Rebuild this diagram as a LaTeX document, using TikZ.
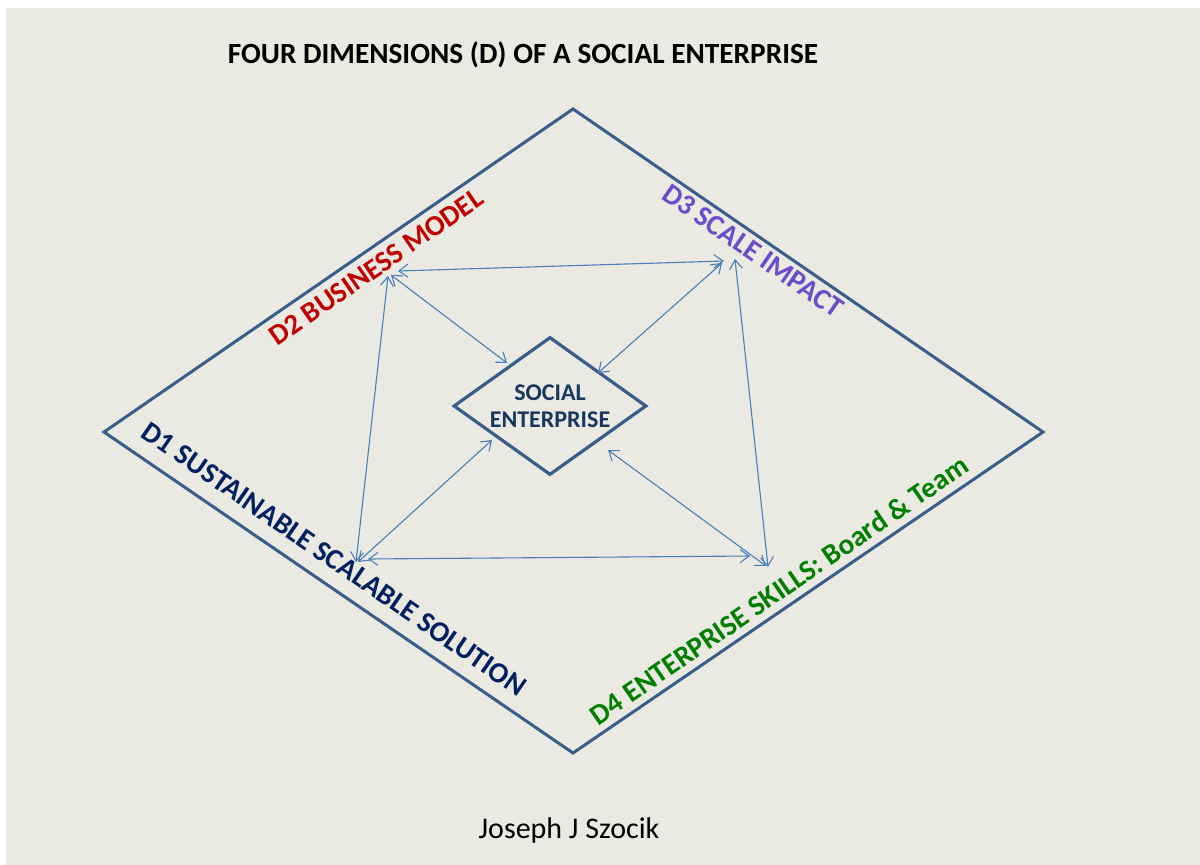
\documentclass[tikz,border=0pt]{standalone}
\usepackage{fontspec}
\setmainfont{Carlito}
\usetikzlibrary{arrows.meta,shapes.geometric}
\definecolor{bgc}{HTML}{EBEAE2}
\definecolor{framec}{HTML}{385D8A}
\definecolor{arrowc}{HTML}{4A7EBB}
\definecolor{redc}{HTML}{C00000}
\definecolor{purplec}{HTML}{6B4CC9}
\definecolor{navyc}{HTML}{002060}
\definecolor{greenc}{HTML}{007F00}
\definecolor{setext}{HTML}{17375E}
\begin{document}
\begin{tikzpicture}[x=1pt,y=-1pt,
  barb/.tip={Straight Barb[length=9pt,width=13pt]},
  conn/.style={draw=arrowc, line width=1.1pt, barb-barb},
  lbl/.style={font=\fontsize{29}{34}\selectfont\bfseries, inner sep=0pt},
  sed/.style={diamond, aspect=1.4, inner sep=0pt, minimum width=193pt, minimum height=138pt,
    draw=framec, line width=3.2pt,
    text=setext, align=center, font=\fontsize{24}{27}\selectfont\bfseries},
  bigframe/.style={draw=framec, line width=3pt, line join=miter}]
\useasboundingbox (0,0) rectangle (1200,865);
\fill[white] (0,0) rectangle (1200,865);
\fill[bgc] (6,8) rectangle (1200,865);

% outer diamond
\coordinate (T) at (573,109);
\coordinate (L) at (104,432);
\coordinate (B) at (573,753);
\coordinate (R) at (1043,432);
\draw[bigframe] (T) -- (R) -- (B) -- (L) -- cycle;

% title and author
\node[font=\fontsize{29.3}{34}\selectfont\bfseries] (title) at (523,55) {FOUR DIMENSIONS (D) OF A SOCIAL ENTERPRISE};
\node[font=\fontsize{30}{35}\selectfont] (author) at (569,830) {Joseph J Szocik};

% centre diamond
\node[sed] (se) at (550,406) {SOCIAL\\ENTERPRISE};

% dimension labels
\node[lbl, text=redc, rotate=34.56] (d2) at (376,267) {D2 BUSINESS MODEL};
\node[lbl, text=purplec, rotate=-34.56] (d3) at (753,251) {D3 SCALE IMPACT};
\node[lbl, text=navyc, rotate=-34.56] (d1) at (334,559) {D1 SUSTAINABLE SCALABLE SOLUTION};
\node[lbl, text=greenc, rotate=34.56] (d4) at (779,590) {D4 ENTERPRISE SKILLS: Board \& Team};

% connector end points
\coordinate (d2h) at (398,271);
\coordinate (d2d) at (391,275);
\coordinate (d2v) at (388,276);
\coordinate (d3h) at (724,261);
\coordinate (d3d) at (722,263);
\coordinate (d3v) at (735,259);
\coordinate (d1v) at (356,562);
\coordinate (d1d) at (358,562);
\coordinate (d1h) at (368,559);
\coordinate (d4h) at (750,556);
\coordinate (d4d) at (766,566);
\coordinate (d4v) at (768,567);
\coordinate (se2) at (507,363);
\coordinate (se3) at (598,373);
\coordinate (se1) at (492,440);
\coordinate (se4) at (608,450);

% connectors
\draw[conn] (d2h) -- (d3h);
\draw[conn] (d2d) -- (se2);
\draw[conn] (d3d) -- (se3);
\draw[conn] (d2v) -- (d1v);
\draw[conn] (d3v) -- (d4v);
\draw[conn] (d1d) -- (se1);
\draw[conn] (d1h) -- (d4h);
\draw[conn] (se4) -- (d4d);
\end{tikzpicture}
\end{document}
